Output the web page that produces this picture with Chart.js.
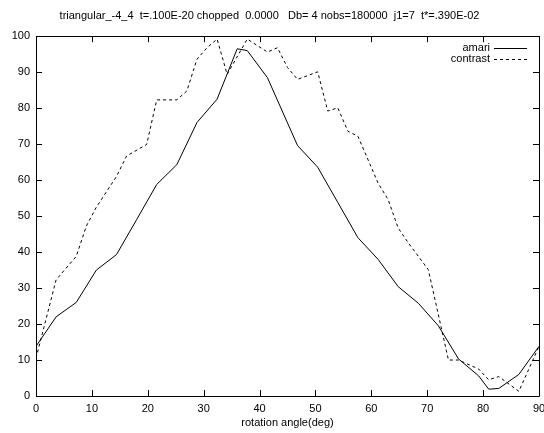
<!DOCTYPE html>
<html lang="en">
<head>
    <meta charset="UTF-8">
    <title>triangular_-4_4 rotation angle</title>
    <script src="https://cdn.jsdelivr.net/npm/chart.js"></script>
    <style>
        html, body {
            margin: 0;
            padding: 0;
            background-color: #fff;
        }
        .chart-container {
            width: 544px;
            height: 433px;
        }
    </style>
</head>
<body>
    <div class="chart-container">
        <canvas id="lineChart"></canvas>
    </div>

    <script>
        // Values (vertices of each curve)
        const amariAngle = [0, 3.6, 7.2, 10.8, 14.4, 18, 21.6, 25.2, 28.8, 32.4, 36, 37.8, 41.4, 46.8, 50.4, 54, 57.6, 61.2, 64.8, 68.4, 72, 75.6, 79.2, 81, 82.8, 86.4, 90];
        const amariValue = [13.8, 22, 26, 35, 39.3, 49, 58.8, 64.3, 76, 82.5, 96.5, 96, 88.5, 69.6, 63.6, 53.8, 44, 38, 30.4, 25.8, 19.5, 10.3, 5.6, 1.9, 2.1, 6, 13.8];

        const contrastAngle = [0, 3.6, 7.2, 9, 10.8, 14.4, 16.2, 19.8, 21.6, 25.2, 27, 28.8, 30.6, 32.4, 34.2, 37.8, 41.4, 43.2, 45, 46.8, 50.4, 52.2, 54, 55.8, 57.6, 61.2, 63, 64.8, 66.6, 70.2, 73.8, 75.6, 79.2, 81, 82.8, 86.4, 90];
        const contrastValue = [10.5, 32.3, 38.8, 47.2, 52.5, 61, 66.7, 69.9, 82.3, 82.3, 84.8, 93.6, 96.8, 99.2, 89.4, 99.2, 95.6, 96.8, 91.3, 88, 90.1, 79.2, 80.1, 73.6, 72.2, 59.2, 54.6, 46.7, 42.6, 35.1, 10, 10, 7.5, 4.5, 5.4, 1.3, 13.8];

        const xTicks = [0, 10, 20, 30, 40, 50, 60, 70, 80, 90];
        const yTicks = [0, 10, 20, 30, 40, 50, 60, 70, 80, 90, 100];

        const chartTitle = 'triangular_-4_4  t=.100E-20 chopped  0.0000   Db= 4 nobs=180000  j1=7  t*=.390E-02';
        const seriesNames = ['amari', 'contrast'];

        const fontFamily = '"Liberation Sans", Arial, Helvetica, sans-serif';

        // frame, inward tick marks on all four sides, gnuplot style key
        const gnuplotFrame = {
            id: 'gnuplotFrame',
            afterDraw(chart) {
                const ctx = chart.ctx;
                const area = chart.chartArea;
                const xs = chart.scales.x;
                const ys = chart.scales.y;
                ctx.save();
                ctx.strokeStyle = '#000';
                ctx.lineWidth = 1;
                ctx.setLineDash([]);
                ctx.beginPath();
                ctx.rect(Math.round(area.left) + 0.5, Math.round(area.top) + 0.5,
                    Math.round(area.right - area.left), Math.round(area.bottom - area.top));
                const len = 6;
                xTicks.forEach(v => {
                    const px = Math.round(xs.getPixelForValue(v)) + 0.5;
                    ctx.moveTo(px, area.bottom);
                    ctx.lineTo(px, area.bottom - len);
                    ctx.moveTo(px, area.top);
                    ctx.lineTo(px, area.top + len);
                });
                yTicks.forEach(v => {
                    const py = Math.round(ys.getPixelForValue(v)) + 0.5;
                    ctx.moveTo(area.left, py);
                    ctx.lineTo(area.left + len, py);
                    ctx.moveTo(area.right, py);
                    ctx.lineTo(area.right - len, py);
                });
                ctx.stroke();

                // key
                ctx.font = '11px ' + fontFamily;
                ctx.fillStyle = '#000';
                ctx.textAlign = 'right';
                ctx.textBaseline = 'middle';
                const keyX = area.right - 49;
                chart.data.datasets.forEach((ds, i) => {
                    const ky = area.top + 12 + i * 11;
                    ctx.fillText(ds.label, keyX, ky);
                    ctx.beginPath();
                    ctx.setLineDash(ds.borderDash || []);
                    ctx.moveTo(keyX + 4, Math.round(ky) + 0.5);
                    ctx.lineTo(keyX + 37, Math.round(ky) + 0.5);
                    ctx.stroke();
                });
                ctx.restore();
            }
        };

        const ctxLine = document.getElementById('lineChart').getContext('2d');
        new Chart(ctxLine, {
            type: 'line',
            data: {
                datasets: [
                    {
                        label: seriesNames[0],
                        data: amariAngle.map((a, i) => ({ x: a, y: amariValue[i] })),
                        borderColor: '#000',
                        borderWidth: 1,
                        pointRadius: 0,
                        tension: 0,
                        fill: false
                    },
                    {
                        label: seriesNames[1],
                        data: contrastAngle.map((a, i) => ({ x: a, y: contrastValue[i] })),
                        borderColor: '#000',
                        borderWidth: 1,
                        borderDash: [3, 3],
                        pointRadius: 0,
                        tension: 0,
                        fill: false
                    }
                ]
            },
            options: {
                responsive: true,
                maintainAspectRatio: false,
                animation: false,
                devicePixelRatio: 1,
                layout: {
                    padding: { left: 0, right: 5, top: 0, bottom: 0 }
                },
                scales: {
                    x: {
                        type: 'linear',
                        min: 0,
                        max: 90,
                        afterBuildTicks: scale => {
                            scale.ticks = xTicks.map(v => ({ value: v }));
                        },
                        afterFit: scale => {
                            scale.height = 37;
                            scale.paddingLeft = 0;
                            scale.paddingRight = 0;
                        },
                        grid: { display: false, drawTicks: false },
                        border: { display: false },
                        ticks: {
                            color: '#000',
                            padding: 6,
                            maxRotation: 0,
                            autoSkip: false,
                            font: { family: fontFamily, size: 11 }
                        },
                        title: {
                            display: true,
                            text: 'rotation angle(deg)',
                            color: '#000',
                            padding: { top: 0, bottom: 3 },
                            font: { family: fontFamily, size: 11 }
                        }
                    },
                    y: {
                        type: 'linear',
                        min: 0,
                        max: 100,
                        afterBuildTicks: scale => {
                            scale.ticks = yTicks.map(v => ({ value: v }));
                        },
                        afterFit: scale => {
                            scale.width = 36;
                            scale.paddingTop = 0;
                            scale.paddingBottom = 0;
                        },
                        grid: { display: false, drawTicks: false },
                        border: { display: false },
                        ticks: {
                            color: '#000',
                            padding: 6,
                            autoSkip: false,
                            font: { family: fontFamily, size: 11 }
                        }
                    }
                },
                plugins: {
                    legend: { display: false },
                    tooltip: { enabled: false },
                    title: {
                        display: true,
                        text: chartTitle,
                        color: '#000',
                        padding: { top: 9, bottom: 14 },
                        font: { family: fontFamily, size: 11, weight: 'normal' }
                    }
                }
            },
            plugins: [gnuplotFrame]
        });
    </script>
</body>
</html>
